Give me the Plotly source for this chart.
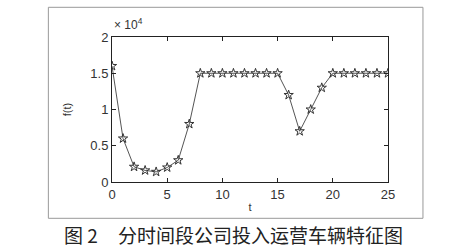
import plotly.graph_objects as go

t = list(range(26))
f = [16000, 6000, 2100, 1600, 1400, 2000, 3000, 8000,
     15000, 15000, 15000, 15000, 15000, 15000, 15000, 15000,
     12000, 7000, 10000, 13000,
     15000, 15000, 15000, 15000, 15000, 15000]
ytick_vals = [0, 5000, 10000, 15000, 20000]
ytick_text = ["0", "0.5", "1", "1.5", "2"]
xtick_vals = [0, 5, 10, 15, 20, 25]

W, H = 469, 251
L, R, T, B = 111.7, 388, 36.7, 181.7
pw, ph = R - L, B - T

def px(x):
    return (x - L) / pw

def py(y):
    return (B - y) / ph

fig = go.Figure()
fig.add_trace(go.Scatter(
    x=t, y=f, mode="lines+markers",
    line=dict(color="#555555", width=1),
    marker=dict(symbol="star-open", size=7, color="#333333", line=dict(width=1, color="#333333")),
    showlegend=False,
))

tick_font = dict(family="Liberation Sans, Arial", size=13, color="#333333")
axis_common = dict(showline=True, linecolor="#222222", linewidth=1, mirror="ticks",
                   ticks="inside", ticklen=4, tickcolor="#222222", showgrid=False, zeroline=False,
                   tickfont=tick_font)

fig.update_layout(
    width=W, height=H,
    margin=dict(l=L, r=W - R, t=T, b=H - B, pad=0),
    paper_bgcolor="white", plot_bgcolor="white",
    xaxis=dict(range=[0, 25], tickvals=xtick_vals, **axis_common,
               title=dict(text="t", font=dict(family="Liberation Sans, Arial", size=11, color="#333333"), standoff=2)),
    yaxis=dict(range=[0, 20000], tickvals=ytick_vals, ticktext=ytick_text, **axis_common,
               title=dict(text="f(t)", font=dict(family="Liberation Sans, Arial", size=11, color="#333333"), standoff=16)),
    shapes=[dict(type="rect", xref="paper", yref="paper",
                 x0=px(48), x1=px(423), y0=py(218), y1=py(7),
                 line=dict(color="#999999", width=1))],
    annotations=[
        dict(text="× 10<sup>4</sup>", xref="paper", yref="paper", x=px(112), y=py(24),
             xanchor="left", yanchor="middle", showarrow=False,
             font=dict(family="Liberation Sans, Arial", size=12, color="#333333")),
        dict(text="图 2", xref="paper", yref="paper", x=px(62), y=py(234),
             xanchor="left", yanchor="middle", showarrow=False,
             font=dict(family="Noto Sans CJK SC", size=19, color="#222222")),
        dict(text="分时间段公司投入运营车辆特征图", xref="paper", yref="paper", x=px(116), y=py(234),
             xanchor="left", yanchor="middle", showarrow=False,
             font=dict(family="Noto Sans CJK SC", size=19, color="#222222")),
    ],
)
fig.write_html("out.html")
